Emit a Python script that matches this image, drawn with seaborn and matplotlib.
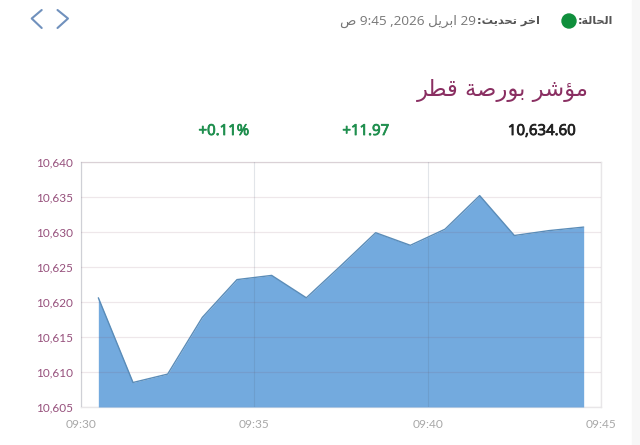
import matplotlib
matplotlib.use('Agg')
import matplotlib.pyplot as plt
import matplotlib.dates as mdates
import matplotlib.patheffects as pe
from matplotlib.lines import Line2D
from matplotlib.patches import Circle, Rectangle
import pandas as pd
import seaborn as sns

# chart data
times = ['09:30:30', '09:31:30', '09:32:30', '09:33:30', '09:34:30',
         '09:35:30', '09:36:30', '09:37:30', '09:38:30', '09:39:30',
         '09:40:30', '09:41:30', '09:42:30', '09:43:30', '09:44:30']
values = [10620.6, 10608.5, 10609.7, 10617.8, 10623.2,
          10623.8, 10620.6, 10625.2, 10629.9, 10628.1,
          10630.4, 10635.2, 10629.5, 10630.2, 10630.7]
y_ticks = [10605, 10610, 10615, 10620, 10625, 10630, 10635, 10640]
x_ticks = ['09:30:00', '09:35:00', '09:40:00', '09:45:00']

index_name = 'مؤشر بورصة قطر'
status_label = 'الحالة'
updated_label = 'اخر تحديث'
month_name = 'ابريل'
am_label = 'ص'
last_value = '10,634.60'
change_value = '+11.97'
change_pct = '+0.11%'

W, H = 640, 445

# iso form codepoint of each arabic letter used here
ISO = {'ا': 0xFE8D, 'ب': 0xFE8F, 'ت': 0xFE95, 'ث': 0xFE99, 'ح': 0xFEA1,
       'خ': 0xFEA5, 'د': 0xFEA9, 'ر': 0xFEAD, 'ش': 0xFEB5, 'ص': 0xFEB9,
       'ط': 0xFEC1, 'ق': 0xFED5, 'ل': 0xFEDD, 'م': 0xFEE1, 'ة': 0xFE93,
       'و': 0xFEED, 'ؤ': 0xFE85, 'ي': 0xFEF1}
NO_JOIN_AFTER = set('ادرةوؤ')


def shape(word):
    """matplotlib does no arabic shaping, so pick the forms and reverse."""
    out = []
    for i, c in enumerate(word):
        if c not in ISO:
            out.append(c)
            continue
        prev = word[i - 1] if i else ' '
        nxt = word[i + 1] if i + 1 < len(word) else ' '
        joins_prev = prev in ISO and prev not in NO_JOIN_AFTER
        joins_next = nxt in ISO and c not in NO_JOIN_AFTER
        if joins_prev and joins_next:
            off = 3
        elif joins_next:
            off = 2
        elif joins_prev:
            off = 1
        else:
            off = 0
        out.append(chr(ISO[c] + off))
    return ''.join(reversed(out))


def px(x, y):
    return x / W, 1 - y / H


sns.set_theme(style='whitegrid')
plt.rcParams['font.family'] = ['Lato', 'DejaVu Sans']

df = pd.DataFrame({'time': pd.to_datetime(['2026-04-29 ' + t for t in times]),
                   'value': values})

fig = plt.figure(figsize=(W / 100, H / 100), dpi=100, facecolor='white')
ax = fig.add_axes([81 / W, 1 - 407 / H, (601 - 81) / W, (407 - 162) / H])

ax.fill_between(df['time'], df['value'], y_ticks[0], color='#73aade',
                linewidth=0, zorder=2)
sns.lineplot(data=df, x='time', y='value', ax=ax, color='#5a8cb8',
             linewidth=1.0, zorder=3)

x_pos = pd.to_datetime(['2026-04-29 ' + t for t in x_ticks])
ax.set_xlim(x_pos[0], x_pos[-1])
ax.set_ylim(y_ticks[0], y_ticks[-1])
ax.set_xticks(x_pos)
ax.xaxis.set_major_formatter(mdates.DateFormatter('%H:%M'))
ax.set_yticks(y_ticks)
ax.set_yticklabels([f'{v:,}' for v in y_ticks])
ax.set_xlabel('')
ax.set_ylabel('')
# grid sits over the fill, see-through so it darkens the blue
ax.set_axisbelow(False)
ax.grid(axis='x', color='#50607a', alpha=0.16, linewidth=0.8)
ax.grid(axis='y', color='#804a60', alpha=0.13, linewidth=0.9)
ax.tick_params(axis='x', colors='#a8a8a8', labelsize=8.6, length=0, pad=9)
ax.tick_params(axis='y', colors='#96507c', labelsize=8.5, length=0, pad=6)
for s in ax.spines.values():
    s.set_color('#e8e6e8')
    s.set_linewidth(1)
    s.set_zorder(1)

# page furniture around the chart
fig.add_artist(Rectangle((632 / W, 0), 8 / W, 1, transform=fig.transFigure,
                         color='#f7f7f7', zorder=0))
for pts in ([(41.7, 10), (31.7, 18.5), (41.7, 28)],
            [(57.5, 10), (68, 18.5), (57.5, 28)]):
    xs, ys = zip(*[px(*p) for p in pts])
    fig.add_artist(Line2D(xs, ys, color='#7091bd', linewidth=1.5))

fig.add_artist(Circle((569 / 100, (H - 21) / 100), 0.07,
                      transform=fig.dpi_scale_trans, color='#0f8f3c'))

ar = ['DejaVu Sans']
fig.text(*px(613, 21), ':' + shape(status_label), ha='right', va='center',
         family=ar, fontsize=8, fontweight='bold', color='#555555')
fig.text(*px(540, 21), ':' + shape(updated_label), ha='right', va='center',
         family=ar, fontsize=8.2, fontweight='bold', color='#555555')
date_text = shape(am_label) + ' 9:45 ,2026 ' + shape(month_name) + ' 29'
fig.text(*px(476, 21), date_text, ha='right', va='center',
         family=['Open Sans', 'DejaVu Sans'], fontsize=9.7, color='#777777')

fig.text(*px(589, 90), shape(index_name), ha='right', va='center', family=ar,
         fontsize=16.3, color='#8a2f62')

# the sans families here have no real bold weight, so thicken with a stroke
for right, label, color in [(576, last_value, '#222222'),
                            (389, change_value, '#1f8f4e'),
                            (249, change_pct, '#1f8f4e')]:
    t = fig.text(*px(right, 131.5), label, ha='right', va='center',
                 family=['Open Sans'], fontsize=10.8, color=color)
    t.set_path_effects([pe.withStroke(linewidth=0.6, foreground=color)])

fig.savefig('out.png', dpi=100)
